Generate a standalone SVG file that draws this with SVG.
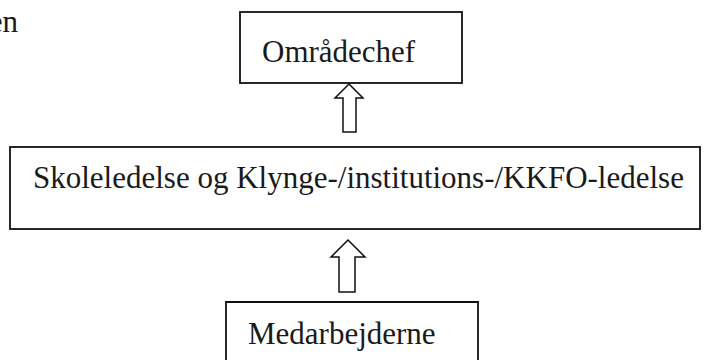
<svg xmlns="http://www.w3.org/2000/svg" width="710" height="360" viewBox="0 0 710 360">
<style>
.box{fill:#fff;stroke:#111;stroke-width:1.8}
.t{font-family:"Liberation Serif","Times New Roman",serif;font-size:31px;fill:#1a1a1a}
.arr{fill:#fff;stroke:#111;stroke-width:1.5;stroke-linejoin:miter}
</style>
<rect width="710" height="360" fill="#fff"/>
<text class="t" x="18" y="32" text-anchor="end">en</text>
<g id="omraadechef">
<rect class="box" x="240" y="12" width="222" height="71"/>
<text class="t" x="262" y="62">Områdechef</text>
</g>
<g id="skoleledelse">
<rect class="box" x="10" y="147" width="690" height="82"/>
<text class="t" x="33" y="188">Skoleledelse og Klynge-/institutions-/KKFO-ledelse</text>
</g>
<g id="medarbejderne">
<path class="box" d="M226,362 V302 H478 V362"/>
<text class="t" x="248" y="344">Medarbejderne</text>
</g>
<g id="connectors">
<polygon class="arr" points="349,84 363,98 356,98 356,132 343,132 343,98 335,98"/>
<polygon class="arr" points="348,240 365,257 355,257 355,292 339,292 339,257 331,257"/>
</g>
</svg>
